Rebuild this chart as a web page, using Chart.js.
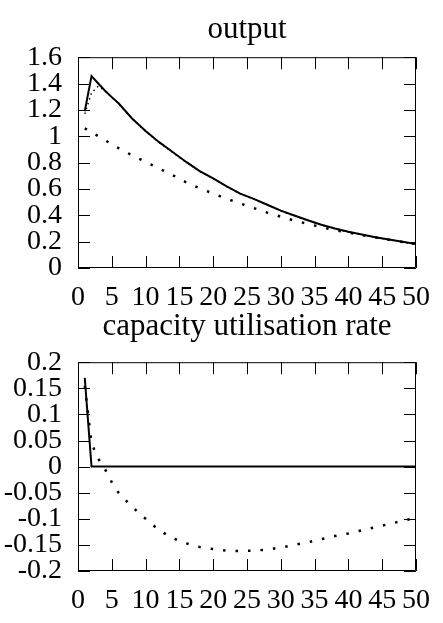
<!DOCTYPE html>
<html>
<head>
<meta charset="utf-8">
<script src="https://cdn.jsdelivr.net/npm/chart.js@4.4.0/dist/chart.umd.min.js"></script>
<style>
  html, body { margin: 0; padding: 0; background: #fff; }
  #wrap { position: relative; width: 443px; height: 623px; }
  .box { position: absolute; left: 0; width: 443px; }
</style>
</head>
<body>
<div id="wrap">
  <div class="box" style="top:0;height:308px"><canvas id="outputChart"></canvas></div>
  <div class="box" style="top:308px;height:315px"><canvas id="capChart"></canvas></div>
</div>
<script>
// periods on the x axis
const tTop = [1, 2, 3, 4, 5, 6, 8, 10, 12, 14, 16, 18, 20, 22, 24, 26, 28, 30, 32, 34, 36, 38, 40, 42, 44, 46, 48, 50];
const tCap = [1, 2, 3, 4, 5, 6, 8, 10, 12, 14, 16, 18, 20, 22, 24, 26, 28, 30, 32, 34, 36, 38, 40, 42, 44, 46, 48, 50];
const tCapSolid = [1, 2, 50];

// output panel
const outputSolid = [1.19, 1.456, 1.40, 1.345, 1.297, 1.25, 1.135, 1.04, 0.955, 0.88, 0.805, 0.735, 0.68, 0.62,
  0.565, 0.525, 0.48, 0.435, 0.398, 0.362, 0.328, 0.30, 0.275, 0.254, 0.234, 0.216, 0.199, 0.182];
const outputDotUpper = [1.17, 1.33, 1.38, 1.345, 1.295, 1.248, 1.133, 1.038, 0.953, 0.878, 0.803, 0.733, 0.678, 0.618,
  0.563, 0.523, 0.478, 0.433, 0.396, 0.36, 0.326, 0.298, 0.273, 0.252, 0.232, 0.214, 0.197, 0.181];
const outputDotLower = [1.06, 1.03, 1.0, 0.97, 0.94, 0.91, 0.855, 0.805, 0.755, 0.705, 0.65, 0.605, 0.565, 0.525,
  0.49, 0.455, 0.42, 0.39, 0.36, 0.335, 0.31, 0.288, 0.268, 0.25, 0.232, 0.215, 0.198, 0.183];

// capacity utilisation panel
const capSolid = [0.17, 0, 0];
const capDotted = [0.155, 0.045, 0.015, -0.005, -0.03, -0.05, -0.077, -0.10, -0.122, -0.137, -0.147, -0.154, -0.158, -0.161,
  -0.162, -0.161, -0.159, -0.155, -0.15, -0.145, -0.139, -0.133, -0.128, -0.122, -0.116, -0.11, -0.104, -0.098];

const topTitle = 'output';
const bottomTitle = 'capacity utilisation rate';

const serif = '"Liberation Serif", "Times New Roman", serif';
Chart.defaults.font.family = serif;
Chart.defaults.font.size = 28;
Chart.defaults.color = '#000';

const pts = (xs, ys) => xs.map((x, i) => ({ x: x, y: ys[i] }));
const fmt = v => String(Number(v.toFixed(2)));

// frame plus inward tick marks on all four sides
const frameTicks = {
  id: 'frameTicks',
  afterDatasetsDraw(chart) {
    const { ctx, chartArea: a, scales: { x, y } } = chart;
    const len = 12;
    ctx.save();
    ctx.strokeStyle = '#000';
    ctx.lineWidth = 1;
    ctx.beginPath();
    ctx.rect(a.left + 0.5, a.top + 0.5, a.right - a.left - 1, a.bottom - a.top - 1);
    x.ticks.forEach(t => {
      const px = Math.round(x.getPixelForValue(t.value)) + 0.5;
      ctx.moveTo(px, a.bottom); ctx.lineTo(px, a.bottom - len);
      ctx.moveTo(px, a.top); ctx.lineTo(px, a.top + len);
    });
    y.ticks.forEach(t => {
      const py = Math.round(y.getPixelForValue(t.value)) + 0.5;
      ctx.moveTo(a.left, py); ctx.lineTo(a.left + len, py);
      ctx.moveTo(a.right, py); ctx.lineTo(a.right - len, py);
    });
    ctx.stroke();
    ctx.restore();
  }
};

function makeOptions(title, titlePad, xHeight, yMin, yMax, yStep) {
  return {
    responsive: true,
    maintainAspectRatio: false,
    animation: false,
    layout: { padding: { left: 0, right: 26, top: 0, bottom: 0 } },
    plugins: {
      legend: { display: false },
      tooltip: { enabled: false },
      title: {
        display: true,
        text: title,
        fullSize: false,
        font: { family: serif, size: 31, weight: 'normal' },
        padding: titlePad
      }
    },
    scales: {
      x: {
        type: 'linear',
        min: 0,
        max: 50,
        grid: { display: false, drawTicks: false },
        border: { display: false },
        ticks: { stepSize: 5, padding: 13, maxRotation: 0, autoSkip: false },
        afterFit(s) { s.height = xHeight; }
      },
      y: {
        min: yMin,
        max: yMax,
        grid: { display: false, drawTicks: false },
        border: { display: false },
        ticks: { stepSize: yStep, padding: 16, autoSkip: false, callback: v => fmt(v) },
        afterFit(s) { s.width = 78; }
      }
    }
  };
}

const solidStyle = { borderColor: '#000', borderWidth: 2, pointRadius: 0, fill: false, tension: 0 };
const dotStyle = { borderColor: '#000', borderWidth: 2.5, borderDash: [2.5, 10], pointRadius: 0, fill: false, tension: 0 };
const fineDotStyle = { borderColor: '#000', borderWidth: 1.5, borderDash: [1.5, 3.5], pointRadius: 0, fill: false, tension: 0 };

new Chart(document.getElementById('outputChart'), {
  type: 'line',
  data: {
    datasets: [
      Object.assign({ label: 'lower', data: pts(tTop, outputDotLower) }, dotStyle),
      Object.assign({ label: 'upper', data: pts(tTop, outputDotUpper) }, fineDotStyle),
      Object.assign({ label: 'solid', data: pts(tTop, outputSolid) }, solidStyle)
    ]
  },
  options: makeOptions(topTitle, { top: 11, bottom: 9 }, 40, 0, 1.6, 0.2),
  plugins: [frameTicks]
});

new Chart(document.getElementById('capChart'), {
  type: 'line',
  data: {
    datasets: [
      Object.assign({ label: 'dotted', data: pts(tCap, capDotted) }, dotStyle),
      Object.assign({ label: 'solid', data: pts(tCapSolid, capSolid) }, solidStyle)
    ]
  },
  options: makeOptions(bottomTitle, { top: 0, bottom: 17 }, 52, -0.2, 0.2, 0.05),
  plugins: [frameTicks]
});
</script>
</body>
</html>
